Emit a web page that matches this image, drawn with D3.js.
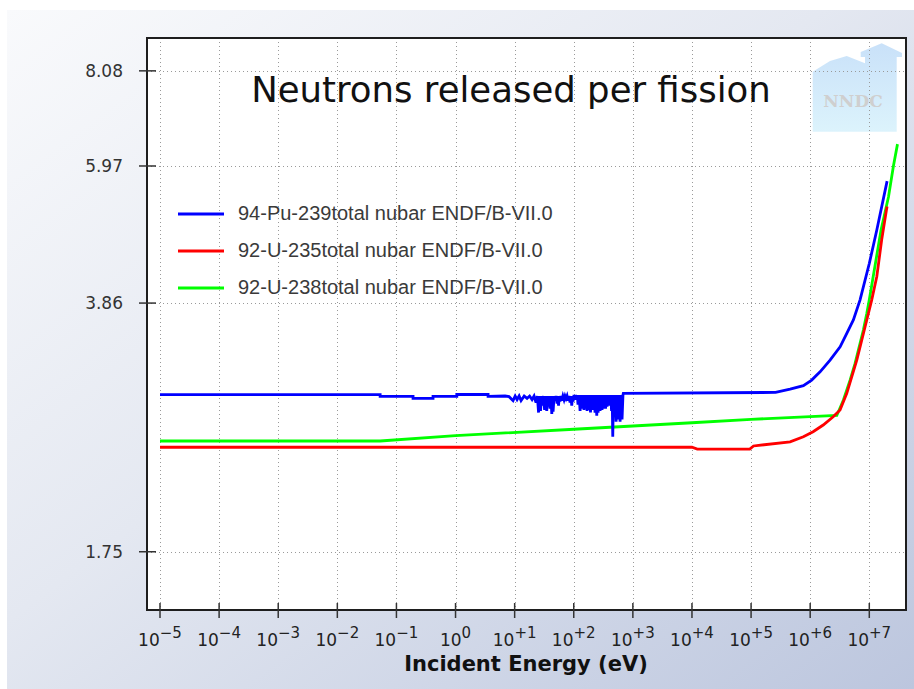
<!DOCTYPE html>
<html><head><meta charset="utf-8">
<script src="https://cdn.jsdelivr.net/npm/d3@7"></script>
<style>html,body{margin:0;padding:0;background:#fff;}svg{display:block;}</style>
</head><body>
<script>
// ---- data ----
const chartTitle = "Neutrons released per fission";
const xAxisTitle = "Incident Energy (eV)";
const seriesNames = ["94-Pu-239total nubar ENDF/B-VII.0","92-U-235total nubar ENDF/B-VII.0","92-U-238total nubar ENDF/B-VII.0"];
const seriesColors = ["#0000ff","#ff0000","#00ff00"];
const yTickValues = [1.75, 3.86, 5.97, 8.08];
const yTickLabels = ["1.75","3.86","5.97","8.08"];
const xTickValues = [1e-5,1e-4,1e-3,1e-2,1e-1,1e0,1e1,1e2,1e3,1e4,1e5,1e6,1e7];
const xTickExponents = ["\u22125","\u22124","\u22123","\u22122","\u22121","0","+1","+2","+3","+4","+5","+6","+7"];

// Pu-239 (energy eV, nubar)
const puE = [1e-5,0.053,0.053,0.191,0.191,0.416,0.416,1.05,1.05,3.55,3.55,6.89,
 8.04,9.40,10.2,10.99,11.9,12.83,14.5,16.2,17.9,19.7,21.3,23.0,24.2,25.4,26.4,27.4,28.5,29.6,30.8,32.1,33.5,34.9,36.2,37.5,38.6,39.7,41.0,42.5,43.6,44.7,46.5,48.3,50.2,52.2,53.7,55.3,56.9,58.6,60.6,62.7,65.5,68.5,71.2,74.1,77.0,80.1,83.2,86.5,89.5,92.5,94.9,97.3,
 101,105,108,112,115,118,123,128,133,138,143,149,153,158,163,168,175,182,187,192,198,204,210,216,222,229,237,245,251,258,268,279,290,301,313,326,335,345,355,366,377,388,399,411,423,436,446,457,469,481,500,520,540,562,585,608,632,656,680,
 690,2.6e5,4.57e5,7.67e5,1.06e6,1.47e6,2.17e6,3.21e6,4.16e6,5.38e6,6.98e6,1.0e7,1.34e7,2.0e7];
const puNu = [2.884,2.884,2.869,2.869,2.851,2.851,2.869,2.869,2.886,2.886,2.869,2.872,
 2.866,2.830,2.872,2.840,2.872,2.830,2.872,2.850,2.872,2.840,2.872,2.812,2.872,2.725,2.872,2.740,2.872,2.785,2.872,2.748,2.872,2.740,2.872,2.776,2.872,2.758,2.872,2.712,2.872,2.732,2.872,2.830,2.872,2.803,2.872,2.785,2.872,2.821,2.872,2.830,2.872,2.838,2.872,2.848,2.872,2.830,2.872,2.812,2.872,2.785,2.872,2.821,
 2.881,2.838,2.881,2.848,2.881,2.794,2.881,2.740,2.881,2.758,2.881,2.748,2.881,2.758,2.881,2.740,2.881,2.748,2.881,2.725,2.881,2.748,2.881,2.758,2.881,2.724,2.881,2.697,2.881,2.724,2.881,2.740,2.881,2.748,2.881,2.758,2.881,2.758,2.881,2.776,2.881,2.785,2.881,2.785,2.881,2.740,2.881,2.523,2.881,2.697,2.881,2.646,2.881,2.665,2.881,2.646,2.881,2.665,2.881,
 2.897,2.905,2.935,2.968,3.021,3.102,3.220,3.358,3.506,3.658,3.90,4.378,4.87,5.69];

// U-235
const u235E = [1e-5,1.0e4,1.23e4,9.5e4,1.1e5,4.57e5,7.67e5,1.12e6,1.66e6,2.45e6,3.2e6,4.16e6,6.14e6,8.49e6,1.1e7,1.34e7,1.62e7,1.95e7,2.0e7];
const u235Nu = [2.44,2.44,2.426,2.426,2.45,2.483,2.523,2.564,2.619,2.689,2.747,2.897,3.22,3.58,3.90,4.20,4.72,5.19,5.25];

// U-238
const u238E = [1e-5,0.053,1,100,1e4,1e5,1e6,2.82e6,3.65e6,4.73e6,5.75e6,6.98e6,7.94e6,9.08e6,1.0e7,1.58e7,2.11e7,2.56e7,3.0e7];
const u238Nu = [2.489,2.489,2.532,2.584,2.638,2.667,2.689,2.70,2.836,3.021,3.186,3.396,3.543,3.736,3.90,4.87,5.41,5.97,6.40];

// ---- drawing ----
const W = 914, H = 689;
const plot = {left:147, top:38, right:906, bottom:610};
const svg = d3.select("body").append("svg").attr("width", W).attr("height", H)
  .style("font-family","'DejaVu Sans', sans-serif");
const defs = svg.append("defs");
const bg = defs.append("linearGradient").attr("id","bg").attr("x1","0").attr("y1","0").attr("x2","1").attr("y2","1");
bg.append("stop").attr("offset","0").attr("stop-color","#f9fafc");
bg.append("stop").attr("offset","0.45").attr("stop-color","#e4e8f1");
bg.append("stop").attr("offset","1").attr("stop-color","#bcc6de");
const wm = defs.append("linearGradient").attr("id","wm").attr("x1","0").attr("y1","0").attr("x2","0").attr("y2","1");
wm.append("stop").attr("offset","0").attr("stop-color","#c9e1f9");
wm.append("stop").attr("offset","1").attr("stop-color","#dcf3fc");
defs.append("clipPath").attr("id","clip").append("rect")
  .attr("x",plot.left).attr("y",plot.top).attr("width",plot.right-plot.left).attr("height",plot.bottom-plot.top);

svg.append("rect").attr("x",7).attr("y",10).attr("width",W-7).attr("height",H-10).attr("fill","url(#bg)");
svg.append("rect").attr("x",plot.left).attr("y",plot.top).attr("width",plot.right-plot.left).attr("height",plot.bottom-plot.top).attr("fill","#fff");

const x = d3.scaleLog().domain([Math.pow(10,-5.22), Math.pow(10,7.621)]).range([plot.left, plot.right]);
const y = d3.scaleLog().domain([1.454, 8.97]).range([plot.bottom, plot.top]);

// watermark
const wmPts = [[812.7,131.7],[812.7,71.7],[830,61],[846.7,56],[865,63.3],[865,57],[860.7,57],[860.7,52],[881.7,43.3],[902,53],[902,57],[896.7,57],[896.7,131.7]];
svg.append("polygon").attr("points", wmPts.map(p=>p.join(",")).join(" ")).attr("fill","url(#wm)");
svg.append("text").attr("x",853).attr("y",107).attr("text-anchor","middle")
  .style("font-family","'DejaVu Serif', serif").style("font-weight","bold").style("font-size","17px")
  .attr("fill","#cfcfcf").text("NNDC");

// grid
const grid = svg.append("g").attr("clip-path","url(#clip)");
grid.selectAll("line.gx").data(xTickValues).join("line")
  .attr("x1",d=>Math.round(x(d))+0.5).attr("x2",d=>Math.round(x(d))+0.5)
  .attr("y1",plot.top).attr("y2",plot.bottom)
  .attr("stroke","#9a9a9a").attr("stroke-width",1).attr("stroke-dasharray","1,3");
grid.selectAll("line.gy").data(yTickValues).join("line")
  .attr("y1",d=>Math.round(y(d))+0.5).attr("y2",d=>Math.round(y(d))+0.5)
  .attr("x1",plot.left).attr("x2",plot.right)
  .attr("stroke","#9a9a9a").attr("stroke-width",1).attr("stroke-dasharray","1,3");

// title
svg.append("text").attr("x",511).attr("y",102).attr("text-anchor","middle")
  .style("font-size","35.5px").attr("fill","#111").text(chartTitle);

// legend
const leg = svg.append("g");
seriesNames.forEach((n,i)=>{
  const ly = 214 + i*37;
  leg.append("line").attr("x1",178).attr("x2",224).attr("y1",ly).attr("y2",ly)
    .attr("stroke",seriesColors[i]).attr("stroke-width",3);
  leg.append("text").attr("x",238).attr("y",ly+6)
    .style("font-family","'Liberation Sans', Arial, sans-serif").style("font-size","20px")
    .attr("fill","#3a3a3a").text(n);
});

// series
const series = [[puE,puNu],[u235E,u235Nu],[u238E,u238Nu]];
const line = d3.line().x(d=>x(d[0])).y(d=>y(d[1]));
const lg = svg.append("g").attr("clip-path","url(#clip)");
[2,1,0].forEach(i=>{
  const [E,N] = series[i];
  lg.append("path").datum(E.map((e,k)=>[e,N[k]]))
    .attr("d",line).attr("fill","none").attr("stroke",seriesColors[i])
    .attr("stroke-width",2.8).attr("stroke-linejoin","miter");
});

// frame
svg.append("rect").attr("x",plot.left).attr("y",plot.top).attr("width",plot.right-plot.left).attr("height",plot.bottom-plot.top)
  .attr("fill","none").attr("stroke","#1e1e1e").attr("stroke-width",2);

// y axis ticks
const yAxis = svg.append("g");
yTickValues.forEach((v,i)=>{
  const yy = y(v);
  yAxis.append("line").attr("x1",139).attr("x2",156).attr("y1",yy).attr("y2",yy).attr("stroke","#333").attr("stroke-width",1.5);
  yAxis.append("text").attr("x",123).attr("y",yy+6).attr("text-anchor","end")
    .style("font-size","17px").attr("fill","#333").text(yTickLabels[i]);
});
// x axis ticks
const xAxis = svg.append("g");
xTickValues.forEach((v,i)=>{
  const xx = x(v);
  xAxis.append("line").attr("x1",xx).attr("x2",xx).attr("y1",603).attr("y2",618).attr("stroke","#333").attr("stroke-width",1.5);
  const t = xAxis.append("text").attr("x",xx).attr("y",646).attr("text-anchor","middle")
    .style("font-size","17px").attr("fill","#222");
  t.append("tspan").text("10");
  t.append("tspan").attr("dy",-8).style("font-size","15px").text(xTickExponents[i]);
});
svg.append("text").attr("x",526).attr("y",671).attr("text-anchor","middle")
  .style("font-size","21px").style("font-weight","bold").attr("fill","#111").text(xAxisTitle);
</script>
</body></html>
